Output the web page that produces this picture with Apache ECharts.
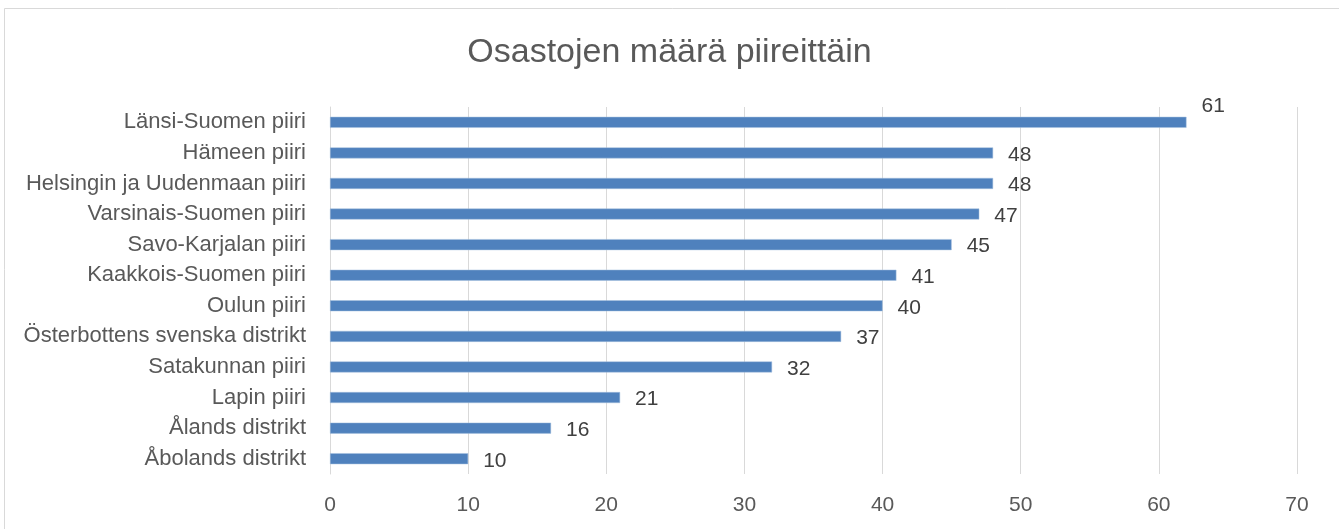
<!DOCTYPE html>
<html lang="fi">
<head>
<meta charset="utf-8" />
<title>Osastojen määrä piireittäin</title>
<script src="https://cdn.jsdelivr.net/npm/echarts@6/dist/echarts.min.js"></script>
<style>
  html, body { margin: 0; padding: 0; background: #fff; }
  #chart { width: 1339px; height: 529px; }
</style>
</head>
<body>
<div id="chart"></div>
<script>
// piirit ylhäältä alas
const districts = ['Länsi-Suomen piiri', 'Hämeen piiri', 'Helsingin ja Uudenmaan piiri',
  'Varsinais-Suomen piiri', 'Savo-Karjalan piiri', 'Kaakkois-Suomen piiri', 'Oulun piiri',
  'Österbottens svenska distrikt', 'Satakunnan piiri', 'Lapin piiri', 'Ålands distrikt',
  'Åbolands distrikt'];
// palkkien pituudet kuvasta
const barValues = [62, 48, 48, 47, 45, 41, 40, 37, 32, 21, 16, 10];
// arvotekstit sellaisina kuin ne näkyvät
const labelTexts = ['61', '48', '48', '47', '45', '41', '40', '37', '32', '21', '16', '10'];
const xTicks = [0, 10, 20, 30, 40, 50, 60, 70];

const chart = echarts.init(document.getElementById('chart'));
const font = '"Liberation Sans", "DejaVu Sans", sans-serif';

const seriesData = barValues.map(function (v, i) {
  const item = { value: v };
  if (i === 0) {
    item.label = { offset: [0, -16] };
  }
  return item;
});

chart.setOption({
  animation: false,
  textStyle: { fontFamily: font },
  title: {
    text: 'Osastojen määrä piireittäin',
    left: 'center',
    top: 31,
    textStyle: { fontSize: 34, fontWeight: 'normal', color: '#595959', fontFamily: font }
  },
  graphic: [{
    type: 'rect',
    shape: { x: 4.5, y: 8.5, width: 1400, height: 600 },
    style: { fill: 'none', stroke: '#d9d9d9', lineWidth: 1 },
    silent: true
  }],
  grid: { left: 330, right: 42, top: 107, bottom: 55 },
  xAxis: {
    type: 'value',
    min: xTicks[0],
    max: xTicks[xTicks.length - 1],
    interval: 10,
    axisLine: { show: false },
    axisTick: { show: false },
    axisLabel: { fontSize: 21, color: '#595959', margin: 21 },
    splitLine: { lineStyle: { color: '#d9d9d9', width: 1 } }
  },
  yAxis: {
    type: 'category',
    data: districts,
    inverse: true,
    axisLine: { lineStyle: { color: '#d9d9d9' } },
    axisTick: { show: false },
    axisLabel: { fontSize: 22, color: '#595959', margin: 24 }
  },
  series: [{
    type: 'bar',
    data: seriesData,
    barWidth: 11,
    itemStyle: { color: '#4f81bd', borderColor: '#a7c0de', borderWidth: 0.5 },
    label: {
      show: true,
      position: 'right',
      distance: 15,
      fontSize: 21,
      color: '#404040',
      offset: [0, 2],
      formatter: function (p) { return labelTexts[p.dataIndex]; }
    }
  }]
});
</script>
</body>
</html>
